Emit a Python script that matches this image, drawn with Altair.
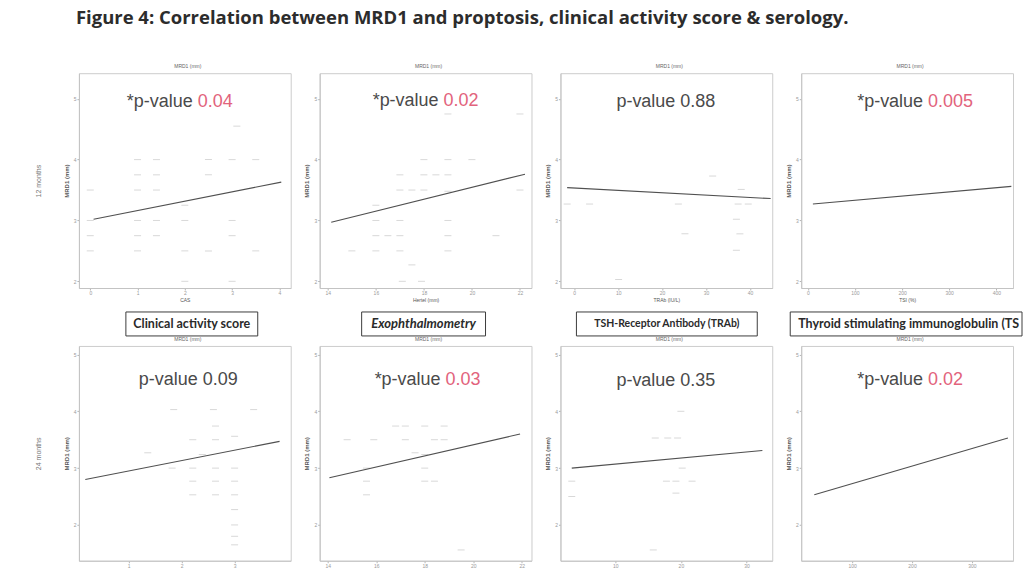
import altair as alt
import pandas as pd

# ---- text -------------------------------------------------------------
FIG_TITLE = "Figure 4: Correlation between MRD1 and proptosis, clinical activity score & serology."
ROW_LABELS = ["12 months", "24 months"]
BOX_LABELS = [
    "Clinical activity score",
    "Exophthalmometry",
    "TSH-Receptor Antibody (TRAb)",
    "Thyroid stimulating immunoglobulin (TSI)",
]
X_TITLES = ["CAS", "Hertel (mm)", "TRAb (IU/L)", "TSI (%)"]
PANEL_TITLE = "MRD1 (mm)"
Y_TITLE = "MRD1 (mm)"

# p-values, row-major (12 months then 24 months)
P_VALUES = ["0.04", "0.02", "0.88", "0.005", "0.09", "0.03", "0.35", "0.02"]
SIGNIFICANT = [True, True, False, True, False, True, False, True]

# ---- 12 months ----------------------------------------------------------
cas12_x = [1, 1.4, 1, 1.4, 1, 1.4, 2, 1, 1.4, 1, 1.4, 2, 2, 1, 3, 3.5, 2.5, 2.5, 3, 3, 3.5, 2.5, 0, 0, 0, 2, 3, 3.1, 0]
cas12_y = [4, 4, 3.75, 3.75, 3.5, 3.5, 3.25, 3, 3, 2.75, 2.75, 3, 2.5, 2.5, 4, 4, 4, 3.75, 3, 2.75, 2.5, 2.5, 3, 2.75, 2.5, 2, 2, 4.55, 3.5]
cas12_fit_x = [0.07, 4.04]
cas12_fit_y = [3.02, 3.63]

hertel12_x = [17, 17, 17.5, 18, 18, 18.5, 19, 18, 19, 20, 16, 16, 17, 19, 16, 16.5, 17, 19, 21, 15, 16, 17, 19, 17.1, 17.9, 19, 22, 22, 19, 17.5]
hertel12_y = [3.75, 3.5, 3.5, 3.5, 3.75, 3.75, 3.75, 4, 4, 4, 3.25, 3, 3, 3, 2.75, 2.75, 2.75, 2.75, 2.75, 2.5, 2.5, 2.5, 2.5, 2, 2, 4.75, 4.75, 3.5, 3.48, 2.27]
hertel12_fit_x = [14.14, 22.21]
hertel12_fit_y = [2.97, 3.76]

trab12_x = [-1.6, 37.3, 39.6, 38.0, 31.5, 23.7, 3.5, 25.2, 37.7, 36.9, 36.9, 10.1]
trab12_y = [3.27, 3.27, 3.27, 3.51, 3.73, 3.27, 3.27, 2.78, 2.78, 3.02, 2.51, 2.03]
trab12_fit_x = [-1.6, 44.7]
trab12_fit_y = [3.54, 3.36]

tsi12_x = []
tsi12_y = []
tsi12_fit_x = [10.8, 432]
tsi12_fit_y = [3.27, 3.56]

# ---- 24 months ----------------------------------------------------------
cas24_x = [1.85, 2.6, 3.36, 2.64, 2.64, 2.21, 3.0, 1.82, 2.21, 2.64, 3.0, 2.21, 2.64, 3.0, 2.21, 2.64, 3.0, 3.0, 3.0, 3.0, 3.0, 1.36, 2.39]
cas24_y = [4.03, 4.03, 4.03, 3.74, 3.5, 3.5, 3.56, 3.0, 3.0, 3.0, 3.0, 2.77, 2.77, 2.77, 2.53, 2.53, 2.53, 2.27, 2.0, 1.8, 1.65, 3.27, 3.24]
cas24_fit_x = [0.18, 3.85]
cas24_fit_y = [2.80, 3.47]

hertel24_x = [14.8, 15.6, 15.6, 15.6, 16.8, 17.2, 18.0, 18.8, 17.2, 17.6, 18.0, 18.0, 18.0, 18.4, 18.4, 18.8, 19.5, 15.9]
hertel24_y = [3.5, 3.0, 2.77, 2.53, 3.74, 3.74, 3.74, 3.74, 3.5, 3.27, 3.24, 3.0, 2.77, 2.77, 3.5, 3.5, 1.56, 3.5]
hertel24_fit_x = [14.07, 21.93]
hertel24_fit_y = [2.83, 3.6]

trab24_x = [20, 16.1, 18, 19.5, 20.2, 3.4, 3.4, 17.8, 19.25, 21.7, 19.25, 15.8]
trab24_y = [4.0, 3.53, 3.53, 3.53, 3.0, 2.77, 2.5, 2.77, 2.77, 2.77, 2.56, 1.56]
trab24_fit_x = [3.4, 32.4]
trab24_fit_y = [3.0, 3.31]

tsi24_x = []
tsi24_y = []
tsi24_fit_x = [37, 360]
tsi24_fit_y = [2.53, 3.53]

# ---- axes ---------------------------------------------------------------
x_ticks = [
    [0, 1, 2, 3, 4], [14, 16, 18, 20, 22], [0, 10, 20, 30, 40], [0, 100, 200, 300, 400],
    [1, 2, 3], [14, 16, 18, 20, 22], [10, 20, 30], [100, 200, 300],
]
x_domains = [
    [-0.24, 4.24], [13.66, 22.48], [-3.13, 45.06], [-14, 435.5],
    [0.06, 4.06], [13.67, 22.4], [1.68, 33.9], [15.2, 368.5],
]
y_ticks = [2, 3, 4, 5]
y_domains = [[1.89, 5.42], [1.37, 5.15]]

series = [
    (cas12_x, cas12_y, cas12_fit_x, cas12_fit_y),
    (hertel12_x, hertel12_y, hertel12_fit_x, hertel12_fit_y),
    (trab12_x, trab12_y, trab12_fit_x, trab12_fit_y),
    (tsi12_x, tsi12_y, tsi12_fit_x, tsi12_fit_y),
    (cas24_x, cas24_y, cas24_fit_x, cas24_fit_y),
    (hertel24_x, hertel24_y, hertel24_fit_x, hertel24_fit_y),
    (trab24_x, trab24_y, trab24_fit_x, trab24_fit_y),
    (tsi24_x, tsi24_y, tsi24_fit_x, tsi24_fit_y),
]

# ---- layout / style -----------------------------------------------------
W, H = 212, 215
FONT = "Liberation Sans"
DARK = "#4a4a4a"
RED = "#e2637c"
PV_SPLIT = [114, 119, 115, 122, 119, 121, 115, 122]
PV_Y = [29, 28, 29, 29, 34, 34, 35, 34]
BOX_X = [(47, 179), (42, 166), (16, 197), (-11, 221)]
BOX_STYLE = ["normal", "italic", "normal", "normal"]
BOX_SIZE = [12.5, 13, 10.5, 12.5]


def build_panel(i):
    xs, ys, fx, fy = series[i]
    row = i // 4
    col = i % 4
    xscale = alt.Scale(domain=x_domains[i], nice=False, zero=False)
    yscale = alt.Scale(domain=y_domains[row], nice=False, zero=False)
    xaxis = alt.Axis(values=x_ticks[i], title=X_TITLES[col] if row == 0 else "")
    yaxis = alt.Axis(values=y_ticks, title=Y_TITLE)

    layers = []
    fit = alt.Chart(pd.DataFrame({"x": fx, "y": fy})).mark_line(
        color="#505050", strokeWidth=1.1
    ).encode(
        x=alt.X("x:Q", scale=xscale, axis=xaxis),
        y=alt.Y("y:Q", scale=yscale, axis=yaxis),
    )
    if xs:
        pts = alt.Chart(pd.DataFrame({"x": xs, "y": ys})).mark_tick(
            orient="horizontal", size=7, thickness=1, color="#c8c8c8"
        ).encode(
            x=alt.X("x:Q", scale=xscale, axis=xaxis),
            y=alt.Y("y:Q", scale=yscale, axis=yaxis),
        )
        layers.append(pts)
    layers.append(fit)

    # small heading above each panel
    ph = pd.DataFrame({"t": [PANEL_TITLE]})
    layers.append(
        alt.Chart(ph).mark_text(align="center", baseline="bottom", font=FONT, fontSize=5, color="#666666")
        .encode(x=alt.value(W / 2 + 3), y=alt.value(-4), text="t:N")
    )

    pv = pd.DataFrame({
        "prefix": ["*p-value" if SIGNIFICANT[i] else "p-value"],
        "value": [P_VALUES[i]],
    })
    layers.append(
        alt.Chart(pv).mark_text(align="right", baseline="middle", font=FONT, fontSize=18, color=DARK)
        .encode(x=alt.value(PV_SPLIT[i]), y=alt.value(PV_Y[i]), text="prefix:N")
    )
    layers.append(
        alt.Chart(pv).mark_text(align="left", baseline="middle", font=FONT, fontSize=18,
                                color=RED if SIGNIFICANT[i] else DARK)
        .encode(x=alt.value(PV_SPLIT[i] + 5), y=alt.value(PV_Y[i]), text="value:N")
    )

    if row == 0:
        bx0, bx1 = BOX_X[col]
        lab = pd.DataFrame({"label": [BOX_LABELS[col]]})
        layers.append(
            alt.Chart(lab).mark_rect(fill="white", stroke="#3c3c3c", strokeWidth=1)
            .encode(x=alt.value(bx0), x2=alt.value(bx1), y=alt.value(239), y2=alt.value(263))
        )
        if col < 3:
            txt = alt.Chart(lab).mark_text(
                align="center", baseline="middle", font="Lato", fontSize=BOX_SIZE[col],
                fontWeight="bold", fontStyle=BOX_STYLE[col], color="#2a2a2a"
            ).encode(x=alt.value((bx0 + bx1) / 2), y=alt.value(251), text="label:N")
        else:
            # last label runs past the page edge, so it is cut without an ellipsis mark
            txt = alt.Chart(lab).mark_text(
                align="left", baseline="middle", font="Lato", fontSize=BOX_SIZE[col],
                fontWeight="bold", color="#2a2a2a", limit=bx1 - bx0 - 6, ellipsis=" "
            ).encode(x=alt.value(bx0 + 8), y=alt.value(251), text="label:N")
        layers.append(txt)

    if col == 0:
        rl = pd.DataFrame({"label": [ROW_LABELS[row]]})
        layers.append(
            alt.Chart(rl).mark_text(angle=270, align="center", baseline="middle", font=FONT,
                                    fontSize=7, color="#777777")
            .encode(x=alt.value(-40), y=alt.value(108), text="label:N")
        )
    if i == 0:
        tt = pd.DataFrame({"t": [FIG_TITLE]})
        layers.append(
            alt.Chart(tt).mark_text(align="left", baseline="middle", font="Open Sans", fontSize=18.5,
                                    fontWeight="bold", color="#2c2c2c")
            .encode(x=alt.value(-3), y=alt.value(-55), text="t:N")
        )

    return alt.layer(*layers).properties(width=W, height=H)


panels = [build_panel(i) for i in range(8)]

chart = alt.concat(
    *panels, columns=4, spacing={"row": 58, "column": 29}, bounds="flush"
).properties(
    padding={"left": 34, "top": 8, "right": 0, "bottom": 0},
    background="white",
).configure_view(
    stroke="#cccccc", strokeWidth=1
).configure_axis(
    grid=False,
    labelFont=FONT, labelFontSize=5, labelColor="#9a9a9a", labelPadding=1,
    tickColor="#b5b5b5", tickSize=2, domainColor="#c4c4c4",
    titleFont=FONT, titleFontSize=5, titleColor="#555555", titleFontWeight="normal",
    titlePadding=2,
).configure_axisY(
    titleFontSize=6, titleFontWeight="bold", titlePadding=4,
)

chart.save("out.html", embed_options={"renderer": "svg", "actions": False})
